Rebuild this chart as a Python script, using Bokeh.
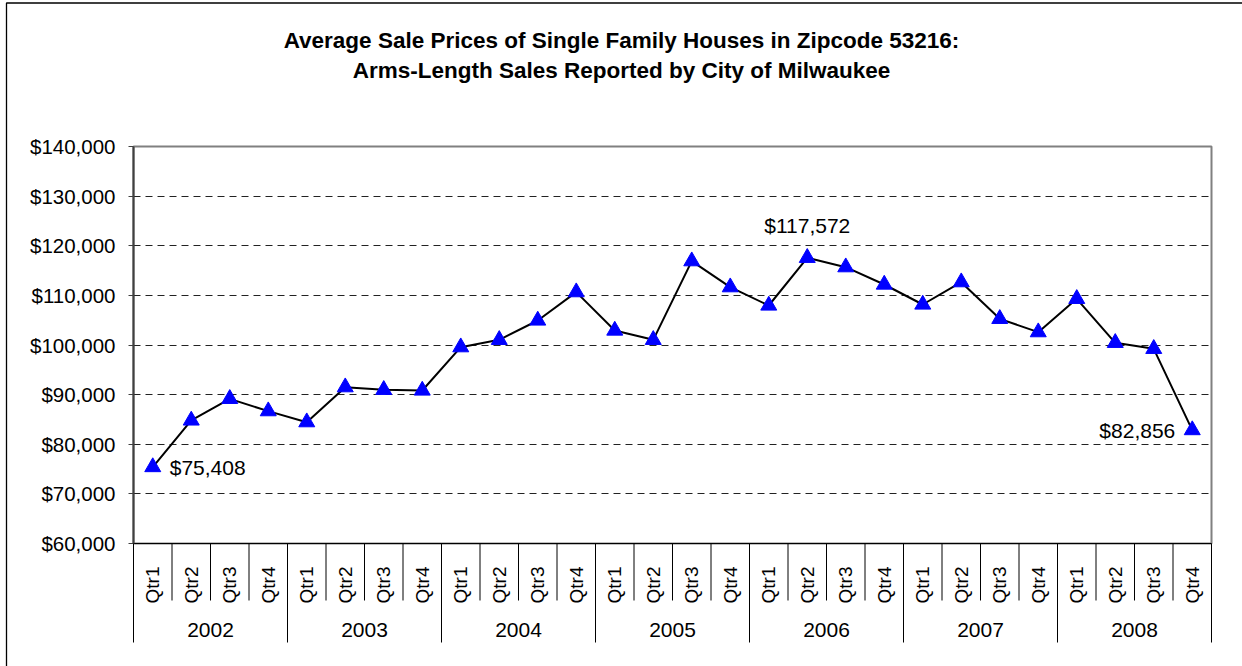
import math
from bokeh.plotting import figure
from bokeh.models import (FactorRange, NumeralTickFormatter, FixedTicker, ColumnDataSource, Label)
from bokeh.core.properties import value
from bokeh.embed import file_html
from bokeh.resources import INLINE

years = ["2002", "2003", "2004", "2005", "2006", "2007", "2008"]
quarters = ["Qtr1", "Qtr2", "Qtr3", "Qtr4"]
prices = [75408, 84800, 89150, 86670, 84450, 91500, 90970, 90830,
          99560, 101040, 104940, 110650, 102920, 101040, 116890, 111650,
          107960, 117572, 115680, 112190, 108160, 112660, 105270, 102590,
          109300, 100440, 99230, 82856]
labeled_idx = [0, 17, 27]
y_ticks = [60000, 70000, 80000, 90000, 100000, 110000, 120000, 130000, 140000]
title_lines = ["Average Sale Prices of Single Family Houses in Zipcode 53216:",
               "Arms-Length Sales Reported by City of Milwaukee"]

factors = [(y, q) for y in years for q in quarters]

W, H = 1242, 666
ML, MR, MT, MB = 133, 31, 146, 123
FONT = "Liberation Sans"

p = figure(width=W, height=H, output_backend="svg", toolbar_location=None,
           x_range=FactorRange(*factors, group_padding=0, subgroup_padding=0,
                               factor_padding=0, range_padding=0),
           y_range=(y_ticks[0], y_ticks[-1]),
           min_border_left=ML, min_border_right=MR, min_border_top=MT, min_border_bottom=MB)
p.border_fill_color = "white"
p.background_fill_color = "white"
p.outline_line_color = "#808080"
p.outline_line_width = 2

# pixel <-> data helpers (from the layout above)
n = len(factors)
frame_w = W - ML - MR
frame_h = H - MT - MB
px_per_cat = frame_w / n
units_per_px = (y_ticks[-1] - y_ticks[0]) / frame_h
def sx(px):
    return (px - ML) / px_per_cat
def sy(py):
    return y_ticks[-1] + (MT - py) * units_per_px

# y axis
p.yaxis.ticker = FixedTicker(ticks=y_ticks)
p.yaxis.formatter = NumeralTickFormatter(format="$0,0")
p.yaxis.major_label_text_font = FONT
p.yaxis.major_label_text_font_size = "20.5px"
p.yaxis.major_label_text_color = "black"
p.yaxis.major_tick_out = 5
p.yaxis.major_tick_in = 0
p.yaxis.minor_tick_line_color = None
p.yaxis.axis_line_color = "#404040"
p.yaxis.axis_line_width = 2
p.yaxis.major_tick_line_color = "#404040"
p.yaxis.major_label_standoff = 13

# x axis
xa = p.xaxis[0]
xa.major_label_orientation = math.pi / 2
xa.major_label_text_font = FONT
xa.major_label_text_font_size = "19px"
xa.major_label_text_color = "black"
xa.group_text_font = FONT
xa.group_text_font_size = "21px"
xa.group_text_font_style = "normal"
xa.group_text_color = "black"
xa.major_tick_line_color = None
xa.axis_line_color = "black"
xa.axis_line_width = 1
xa.separator_line_color = None
xa.major_label_standoff = 17

# grid
p.xgrid.grid_line_color = None
p.ygrid.ticker = FixedTicker(ticks=y_ticks[1:-1])
p.ygrid.grid_line_color = "#222222"
p.ygrid.grid_line_dash = "7 5"
p.ygrid.grid_line_width = 1

# category separator lines below the axis
xs, ys = [], []
for k in range(n + 1):
    xs.append([k, k])
    ys.append([y_ticks[0], sy(MT + frame_h + (99 if k % 4 == 0 else 57))])
sep = p.multi_line(xs=xs, ys=ys, line_color="black", line_width=1)
sep.level = "overlay"

# outer chart border (left and top edges)
bd = p.line(x=[sx(6), sx(6), sx(W + 10)], y=[sy(H + 10), sy(2.5), sy(2.5)],
            line_color="black", line_width=1.3)
bd.level = "overlay"

# title
tt = p.text(x=[sx(621)] * len(title_lines), y=[sy(40 + 30 * j) for j in range(len(title_lines))],
            text=title_lines, text_align="center", text_baseline="alphabetic",
            text_font=value(FONT), text_font_size="22.5px", text_font_style="bold",
            text_color="black")
tt.level = "overlay"

# data
src = ColumnDataSource(dict(x=factors, y=prices))
p.line(x="x", y="y", source=src, line_color="black", line_width=2)
p.scatter(x="x", y="y", source=src, marker="triangle", size=16,
          fill_color="#0000FF", line_color="#0000FF")

# data labels
offsets = {0: (17, 0, "left", "middle"), 17: (0, 21, "center", "bottom"),
           27: (-17, 0, "right", "middle")}
for i in labeled_idx:
    dx, dy, al, bl = offsets[i]
    p.add_layout(Label(x=i + 0.5, y=prices[i], text="${:,}".format(prices[i]),
                       x_offset=dx, y_offset=dy, text_align=al, text_baseline=bl,
                       text_font=FONT, text_font_size="21px", text_color="black"))

open("out.html", "w").write(file_html(p, INLINE))
